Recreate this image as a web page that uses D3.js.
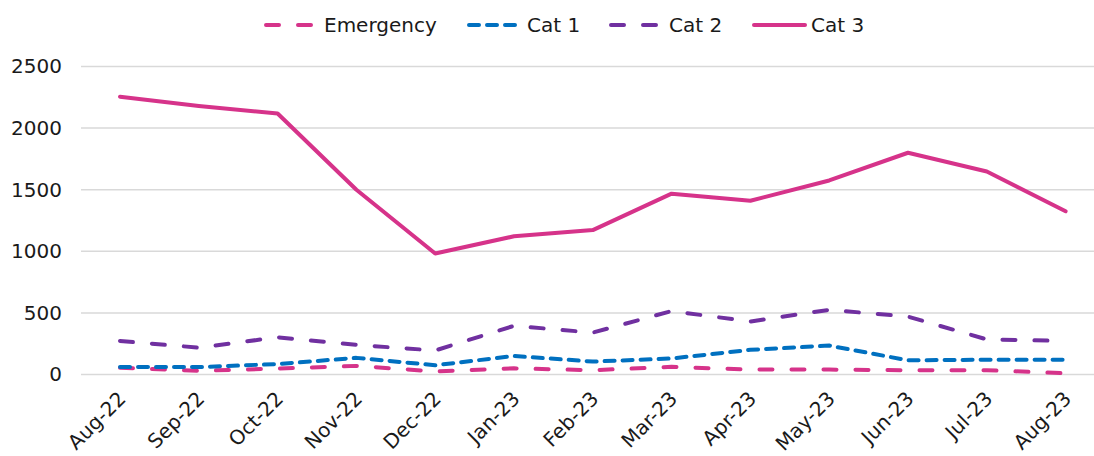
<!DOCTYPE html>
<html>
<head>
<meta charset="utf-8">
<script src="https://cdn.jsdelivr.net/npm/d3@7"></script>
<style>
   body { margin: 0; background: #fff; }
   svg { display: block; font-family: "DejaVu Sans", Verdana, sans-serif; }
</style>
</head>
<body>
<svg id="chart" width="1094" height="456"></svg>
<script>
// DATA
var months = ['Aug-22', 'Sep-22', 'Oct-22', 'Nov-22', 'Dec-22', 'Jan-23', 'Feb-23',
   'Mar-23', 'Apr-23', 'May-23', 'Jun-23', 'Jul-23', 'Aug-23'];
var emergency = [55, 30, 48, 70, 25, 50, 35, 62, 40, 40, 35, 35, 10];
var cat1 = [60, 60, 85, 135, 75, 150, 105, 130, 200, 235, 115, 120, 120];
var cat2 = [272, 218, 302, 240, 195, 395, 340, 515, 430, 525, 470, 285, 272];
var cat3 = [2255, 2180, 2118, 1500, 982, 1122, 1172, 1468, 1410, 1575, 1800, 1648, 1325];
var yTicks = [0, 500, 1000, 1500, 2000, 2500];

var series = [
   {name: 'Emergency', values: emergency, color: '#d6338a', dash: '13,19'},
   {name: 'Cat 1', values: cat1, color: '#0070c0', dash: '10,8'},
   {name: 'Cat 2', values: cat2, color: '#7030a0', dash: '13,19'},
   {name: 'Cat 3', values: cat3, color: '#d6338a', dash: null}
];

var svg = d3.select('#chart');
var lineWidth = 4;
var fontSize = '20px';

var x = d3.scaleBand()
   .domain(months)
   .range([80.6, 1105])
   .padding(0);

var y = d3.scaleLinear()
   .domain([0, 2500])
   .range([374.5, 66.5]);

var cx = function (m) {
   return x(m) + x.bandwidth() / 2;
};

// grid lines
svg.append('g')
   .selectAll('line')
   .data(yTicks)
   .enter().append('line')
   .attr('x1', 81)
   .attr('x2', 1094)
   .attr('y1', function (d) { return y(d); })
   .attr('y2', function (d) { return y(d); })
   .attr('stroke', '#d9d9d9')
   .attr('stroke-width', 1.5);

// y axis labels
var yAxis = d3.axisLeft(y)
   .tickValues(yTicks)
   .tickFormat(d3.format('d'))
   .tickSize(0)
   .tickPadding(0);
var yg = svg.append('g')
   .attr('transform', 'translate(62,0)')
   .call(yAxis);
yg.select('.domain').remove();
yg.selectAll('text')
   .attr('fill', '#1a1a1a')
   .style('font-size', fontSize)
   .style('font-family', '"DejaVu Sans", Verdana, sans-serif');

// x axis labels
var xAxis = d3.axisBottom(x).tickSize(0).tickPadding(0);
var xg = svg.append('g')
   .attr('transform', 'translate(0,375)')
   .call(xAxis);
xg.select('.domain').remove();
xg.selectAll('text')
   .attr('fill', '#1a1a1a')
   .attr('text-anchor', 'end')
   .attr('dy', null)
   .attr('y', null)
   .attr('transform', 'translate(7,25) rotate(-45)')
   .style('font-size', fontSize)
   .style('font-family', '"DejaVu Sans", Verdana, sans-serif');

// lines
var line = d3.line()
   .x(function (d, i) { return cx(months[i]); })
   .y(function (d) { return y(d); });

svg.append('g')
   .selectAll('path')
   .data(series)
   .enter().append('path')
   .attr('d', function (s) { return line(s.values); })
   .attr('fill', 'none')
   .attr('stroke', function (s) { return s.color; })
   .attr('stroke-width', lineWidth)
   .attr('stroke-linecap', 'round')
   .attr('stroke-linejoin', 'round')
   .attr('stroke-dasharray', function (s) { return s.dash; });

// legend
var legendX = [264, 467, 609, 752];
var legend = svg.append('g')
   .selectAll('g')
   .data(series)
   .enter().append('g')
   .attr('transform', function (s, i) { return 'translate(' + legendX[i] + ',25)'; });

legend.append('line')
   .attr('x1', 2)
   .attr('x2', function (s) { return s.dash ? 48 : 53; })
   .attr('stroke', function (s) { return s.color; })
   .attr('stroke-width', lineWidth)
   .attr('stroke-linecap', 'round')
   .attr('stroke-dasharray', function (s) { return s.dash; });

legend.append('text')
   .attr('x', function (s) { return s.dash ? 60 : 59; })
   .attr('dy', '0.35em')
   .attr('fill', '#1a1a1a')
   .style('font-size', fontSize)
   .text(function (s) { return s.name; });
</script>
</body>
</html>
